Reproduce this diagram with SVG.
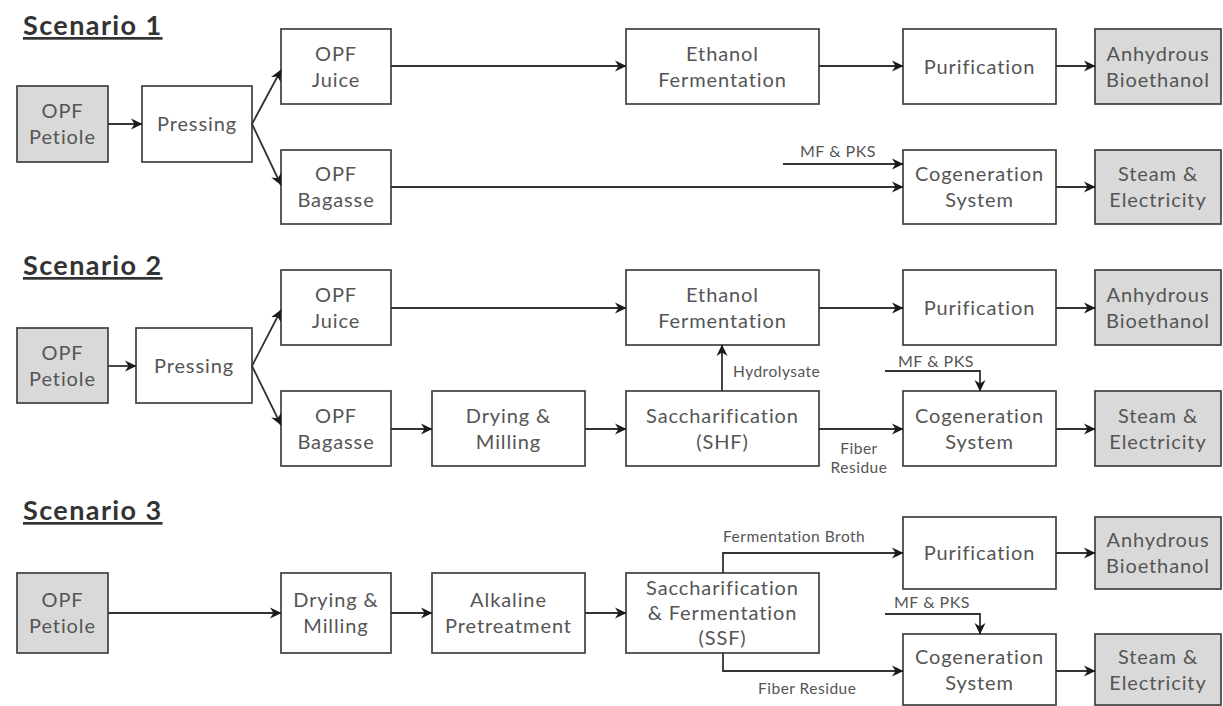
<svg xmlns="http://www.w3.org/2000/svg" width="1223" height="706" viewBox="0 0 1223 706">
<style>
.bg{fill:#ffffff}
.box{fill:#ffffff;stroke:#404040;stroke-width:1.7}
.src{fill:#d9d9d9;stroke:#404040;stroke-width:1.7}
.t{font-family:Lato,"Noto Sans",sans-serif;font-size:20px;letter-spacing:0.9px;fill:#555555;text-anchor:middle}
.lbl{font-family:Lato,"Noto Sans",sans-serif;font-size:15.5px;letter-spacing:0.5px;fill:#555555}
.mf{font-size:16px}
.title{font-family:Lato,"Noto Sans",sans-serif;font-size:27px;font-weight:bold;letter-spacing:1.4px;fill:#333333;text-decoration:underline}
.c{fill:none;stroke:#333333;stroke-width:1.8;marker-end:url(#ah)}
</style>
<defs>
<marker id="ah" markerUnits="userSpaceOnUse" markerWidth="12" markerHeight="12" refX="11" refY="6" orient="auto">
<path d="M0,0.5 L11.5,6 L0,11.5 L3.5,6 z" fill="#1a1a1a"/>
</marker>
</defs>
<rect class="bg" x="0" y="0" width="1223" height="706"/>

<text class="title" x="23" y="35">Scenario 1</text>
<text class="title" x="23" y="275">Scenario 2</text>
<text class="title" x="23" y="520">Scenario 3</text>

<!-- Scenario 1 nodes -->
<g id="s1-petiole"><rect class="src" x="17" y="86" width="91" height="76"/><text class="t" x="62.5" y="118">OPF<tspan x="62.5" dy="26">Petiole</tspan></text></g>
<g id="s1-pressing"><rect class="box" x="142" y="86" width="110" height="76"/><text class="t" x="197" y="131">Pressing</text></g>
<g id="s1-juice"><rect class="box" x="281" y="29" width="110" height="75"/><text class="t" x="336" y="60.5">OPF<tspan x="336" dy="26">Juice</tspan></text></g>
<g id="s1-bagasse"><rect class="box" x="281" y="150" width="110" height="74"/><text class="t" x="336" y="181">OPF<tspan x="336" dy="26">Bagasse</tspan></text></g>
<g id="s1-ethanol"><rect class="box" x="626" y="29" width="193" height="75"/><text class="t" x="722.5" y="60.5">Ethanol<tspan x="722.5" dy="26">Fermentation</tspan></text></g>
<g id="s1-purification"><rect class="box" x="903" y="29" width="153" height="75"/><text class="t" x="979.5" y="73.5">Purification</text></g>
<g id="s1-bioethanol"><rect class="src" x="1095" y="29" width="126" height="75"/><text class="t" x="1158" y="60.5">Anhydrous<tspan x="1158" dy="26">Bioethanol</tspan></text></g>
<g id="s1-cogen"><rect class="box" x="903" y="150" width="153" height="74"/><text class="t" x="979.5" y="181">Cogeneration<tspan x="979.5" dy="26">System</tspan></text></g>
<g id="s1-steam"><rect class="src" x="1095" y="150" width="126" height="74"/><text class="t" x="1158" y="181">Steam &amp;<tspan x="1158" dy="26">Electricity</tspan></text></g>

<!-- Scenario 2 nodes -->
<g id="s2-petiole"><rect class="src" x="17" y="328" width="91" height="75"/><text class="t" x="62.5" y="359.5">OPF<tspan x="62.5" dy="26">Petiole</tspan></text></g>
<g id="s2-pressing"><rect class="box" x="136" y="328" width="116" height="75"/><text class="t" x="194" y="372.5">Pressing</text></g>
<g id="s2-juice"><rect class="box" x="281" y="270" width="110" height="75"/><text class="t" x="336" y="301.5">OPF<tspan x="336" dy="26">Juice</tspan></text></g>
<g id="s2-bagasse"><rect class="box" x="281" y="391" width="110" height="75"/><text class="t" x="336" y="422.5">OPF<tspan x="336" dy="26">Bagasse</tspan></text></g>
<g id="s2-drying"><rect class="box" x="432" y="391" width="153" height="75"/><text class="t" x="508.5" y="422.5">Drying &amp;<tspan x="508.5" dy="26">Milling</tspan></text></g>
<g id="s2-shf"><rect class="box" x="626" y="391" width="193" height="75"/><text class="t" x="722.5" y="422.5">Saccharification<tspan x="722.5" dy="26">(SHF)</tspan></text></g>
<g id="s2-ethanol"><rect class="box" x="626" y="270" width="193" height="75"/><text class="t" x="722.5" y="301.5">Ethanol<tspan x="722.5" dy="26">Fermentation</tspan></text></g>
<g id="s2-purification"><rect class="box" x="903" y="270" width="153" height="75"/><text class="t" x="979.5" y="314.5">Purification</text></g>
<g id="s2-bioethanol"><rect class="src" x="1095" y="270" width="126" height="75"/><text class="t" x="1158" y="301.5">Anhydrous<tspan x="1158" dy="26">Bioethanol</tspan></text></g>
<g id="s2-cogen"><rect class="box" x="903" y="391" width="153" height="75"/><text class="t" x="979.5" y="422.5">Cogeneration<tspan x="979.5" dy="26">System</tspan></text></g>
<g id="s2-steam"><rect class="src" x="1095" y="391" width="126" height="75"/><text class="t" x="1158" y="422.5">Steam &amp;<tspan x="1158" dy="26">Electricity</tspan></text></g>

<!-- Scenario 3 nodes -->
<g id="s3-petiole"><rect class="src" x="17" y="573" width="91" height="80"/><text class="t" x="62.5" y="607">OPF<tspan x="62.5" dy="26">Petiole</tspan></text></g>
<g id="s3-drying"><rect class="box" x="281" y="573" width="110" height="80"/><text class="t" x="336" y="607">Drying &amp;<tspan x="336" dy="26">Milling</tspan></text></g>
<g id="s3-alkaline"><rect class="box" x="432" y="573" width="153" height="80"/><text class="t" x="508.5" y="607">Alkaline<tspan x="508.5" dy="26">Pretreatment</tspan></text></g>
<g id="s3-ssf"><rect class="box" x="626" y="573" width="193" height="80"/><text class="t" x="722.5" y="595">Saccharification<tspan x="722.5" dy="25">&amp; Fermentation</tspan><tspan x="722.5" dy="25">(SSF)</tspan></text></g>
<g id="s3-purification"><rect class="box" x="903" y="517" width="153" height="72"/><text class="t" x="979.5" y="560">Purification</text></g>
<g id="s3-bioethanol"><rect class="src" x="1095" y="517" width="126" height="72"/><text class="t" x="1158" y="547">Anhydrous<tspan x="1158" dy="26">Bioethanol</tspan></text></g>
<g id="s3-cogen"><rect class="box" x="903" y="634" width="153" height="71"/><text class="t" x="979.5" y="664">Cogeneration<tspan x="979.5" dy="26">System</tspan></text></g>
<g id="s3-steam"><rect class="src" x="1095" y="634" width="126" height="71"/><text class="t" x="1158" y="664">Steam &amp;<tspan x="1158" dy="26">Electricity</tspan></text></g>

<g id="connectors">
<!-- Scenario 1 -->
<path class="c" d="M108,124 H142"/>
<path class="c" d="M252,124 L281,70"/>
<path class="c" d="M252,124 L281,185"/>
<path class="c" d="M391,66 H626"/>
<path class="c" d="M819,66 H903"/>
<path class="c" d="M1056,66 H1095"/>
<path class="c" d="M783,164 H903"/>
<path class="c" d="M391,187 H903"/>
<path class="c" d="M1056,187 H1095"/>
<text class="lbl mf" x="800" y="157">MF &amp; PKS</text>
<!-- Scenario 2 -->
<path class="c" d="M108,366 H136"/>
<path class="c" d="M252,366 L281,310"/>
<path class="c" d="M252,366 L281,425"/>
<path class="c" d="M391,308 H626"/>
<path class="c" d="M819,308 H903"/>
<path class="c" d="M1056,308 H1095"/>
<path class="c" d="M391,429 H432"/>
<path class="c" d="M585,429 H626"/>
<path class="c" d="M722,391 V345"/>
<text class="lbl" x="733" y="377">Hydrolysate</text>
<path class="c" d="M885,371 H980 V391"/>
<text class="lbl mf" x="898" y="367">MF &amp; PKS</text>
<path class="c" d="M819,429 H903"/>
<text class="lbl" x="859" y="454" text-anchor="middle">Fiber<tspan x="859" dy="19">Residue</tspan></text>
<path class="c" d="M1056,429 H1095"/>
<!-- Scenario 3 -->
<path class="c" d="M108,613 H281"/>
<path class="c" d="M391,613 H432"/>
<path class="c" d="M585,613 H626"/>
<path class="c" d="M723,573 V553 H903"/>
<text class="lbl" x="723" y="542">Fermentation Broth</text>
<path class="c" d="M723,653 V671 H903"/>
<text class="lbl" x="758" y="694">Fiber Residue</text>
<path class="c" d="M885,614 H980 V634"/>
<text class="lbl mf" x="894" y="608">MF &amp; PKS</text>
<path class="c" d="M1056,553 H1095"/>
<path class="c" d="M1056,671 H1095"/>
</g>
</svg>
